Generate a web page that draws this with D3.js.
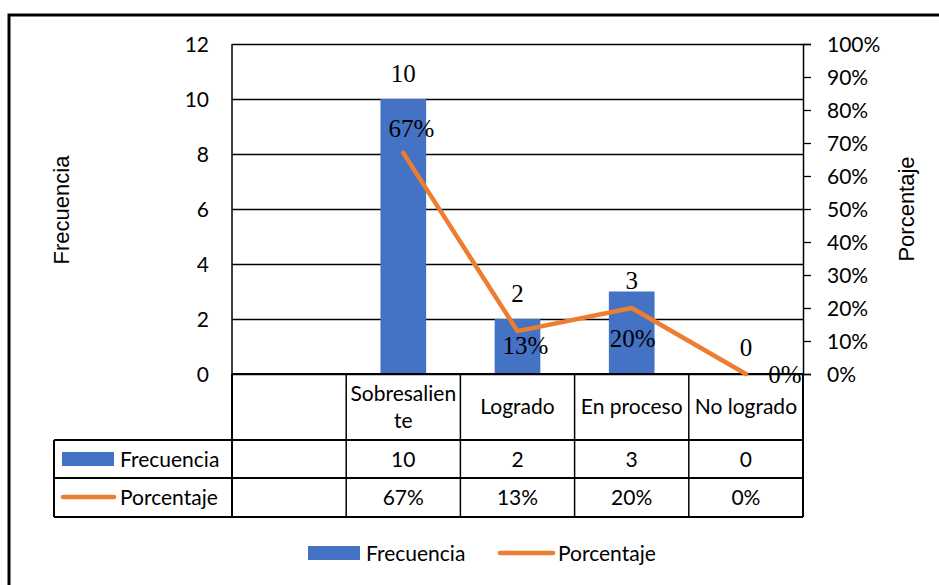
<!DOCTYPE html>
<html>
<head>
<meta charset="utf-8">
<script src="https://cdn.jsdelivr.net/npm/d3@7"></script>
<style>
  body { margin: 0; background: #fff; }
  svg { display: block; }
  .lab { font-family: Lato, "Open Sans", sans-serif; font-size: 21px; fill: #000; }
  .ttl { font-family: "Liberation Sans", Arial, sans-serif; font-size: 22px; fill: #000; }
  .dat { font-family: "Liberation Serif", "Times New Roman", serif; font-size: 25px; fill: #000; }
</style>
</head>
<body>
<script>
(function(){

    //chart values
    var categories = ["", "Sobresaliente", "Logrado", "En proceso", "No logrado"];
    var frecuencia = [null, 10, 2, 3, 0];
    var porcentaje = [null, 67, 13, 20, 0];
    var freqTicks = [0, 2, 4, 6, 8, 10, 12];
    var pctTicks = [0, 10, 20, 30, 40, 50, 60, 70, 80, 90, 100];
    var seriesNames = ["Frecuencia", "Porcentaje"];

    //hand placed data labels (excel style), dx / dy from the point
    var pctLabelShift = [null, [8, -16], [8, 23], [1, 39], [39, 9]];
    var freqLabelShift = [null, -17, -17, -3, -18];

    var width = 939,
        height = 585;

    var blue = "#4472C4",
        orange = "#ED7D31";

    var plot = {left: 232, right: 803, top: 44, bottom: 374};

    var svg = d3.select("body")
        .append("svg")
        .attr("width", width)
        .attr("height", height);

    //outer chart border, runs off the right and bottom of the picture
    svg.append("rect")
        .attr("x", 9)
        .attr("y", 15)
        .attr("width", 960)
        .attr("height", 600)
        .attr("fill", "none")
        .attr("stroke", "#000")
        .attr("stroke-width", 3);

    var x = d3.scaleBand()
        .domain(d3.range(categories.length))
        .range([plot.left, plot.right])
        .paddingInner(0.6)
        .paddingOuter(0.3);

    var yL = d3.scaleLinear().domain([0, 12]).range([plot.bottom, plot.top]);
    var yR = d3.scaleLinear().domain([0, 100]).range([plot.bottom, plot.top]);

    function cx(i){ return x(i) + x.bandwidth() / 2; }

    //gridlines + left labels
    var leftAxis = svg.append("g")
        .attr("transform", "translate(" + plot.left + ",0)")
        .call(d3.axisLeft(yL).tickValues(freqTicks).tickSize(-(plot.right - plot.left)).tickPadding(23));
    leftAxis.select(".domain").remove();
    leftAxis.selectAll(".tick line").attr("stroke", "#000").attr("stroke-width", 1.3);
    leftAxis.selectAll(".tick text").attr("class", "lab").attr("dy", "0.36em");
    leftAxis.attr("font-size", null).attr("font-family", null);

    //left axis line
    svg.append("line")
        .attr("x1", plot.left).attr("x2", plot.left)
        .attr("y1", plot.top).attr("y2", plot.bottom)
        .attr("stroke", "#000").attr("stroke-width", 1.5);

    //right axis
    var rightAxis = svg.append("g")
        .attr("transform", "translate(" + plot.right + ",0)")
        .call(d3.axisRight(yR).tickValues(pctTicks).tickSize(8).tickPadding(16)
            .tickFormat(function(d){ return d + "%"; }));
    rightAxis.select(".domain").attr("stroke", "#000").attr("stroke-width", 1.5);
    rightAxis.selectAll(".tick line").attr("stroke", "#000").attr("stroke-width", 1.3);
    rightAxis.selectAll(".tick text").attr("class", "lab").attr("dy", "0.36em");
    rightAxis.attr("font-size", null).attr("font-family", null);

    //bars
    frecuencia.forEach(function(d, i){
        if (d === null) return;
        svg.append("rect")
            .attr("x", x(i))
            .attr("y", yL(d))
            .attr("width", x.bandwidth())
            .attr("height", yL(0) - yL(d))
            .attr("fill", blue);
    });

    //x axis baseline
    svg.append("line")
        .attr("x1", plot.left).attr("x2", plot.right)
        .attr("y1", plot.bottom).attr("y2", plot.bottom)
        .attr("stroke", "#000").attr("stroke-width", 2);

    //percentage line
    var pts = porcentaje.map(function(d, i){ return {i: i, v: d}; })
        .filter(function(d){ return d.v !== null; });

    var line = d3.line()
        .x(function(d){ return cx(d.i); })
        .y(function(d){ return yR(d.v); });

    svg.append("path")
        .datum(pts)
        .attr("d", line)
        .attr("fill", "none")
        .attr("stroke", orange)
        .attr("stroke-width", 4.5)
        .attr("stroke-linecap", "round")
        .attr("stroke-linejoin", "round");

    //data labels
    frecuencia.forEach(function(d, i){
        if (d === null) return;
        svg.append("text")
            .attr("class", "dat")
            .attr("text-anchor", "middle")
            .attr("x", cx(i))
            .attr("y", yL(d) + freqLabelShift[i])
            .text(d);
    });
    pts.forEach(function(d){
        var s = pctLabelShift[d.i];
        svg.append("text")
            .attr("class", "dat")
            .attr("text-anchor", "middle")
            .attr("x", cx(d.i) + s[0])
            .attr("y", yR(d.v) + s[1])
            .text(d.v + "%");
    });

    //data table under the plot
    var colEdges = d3.range(categories.length + 1).map(function(k){
        return plot.left + k * (plot.right - plot.left) / categories.length;
    });

    var rows = {head: [plot.bottom, 440], r1: [440, 478], r2: [478, 517]};
    var tableLeft = 54;

    var tbl = svg.append("g").attr("stroke", "#000").attr("stroke-width", 2);

    colEdges.forEach(function(e, k){
        tbl.append("line")
            .attr("x1", e).attr("x2", e)
            .attr("y1", rows.head[0]).attr("y2", rows.r2[1])
            .attr("stroke-width", (k === 0 || k === colEdges.length - 1) ? 2 : 1.5);
    });
    tbl.append("line")
        .attr("x1", tableLeft).attr("x2", tableLeft)
        .attr("y1", rows.r1[0]).attr("y2", rows.r2[1]);
    [rows.r1[0], rows.r2[0], rows.r2[1]].forEach(function(yy){
        tbl.append("line")
            .attr("x1", tableLeft).attr("x2", plot.right)
            .attr("y1", yy).attr("y2", yy);
    });

    //category headers, wrapped like excel
    categories.forEach(function(c, i){
        if (!c) return;
        var colW = colEdges[i + 1] - colEdges[i] - 2;
        var t = svg.append("text")
            .attr("class", "lab")
            .attr("text-anchor", "middle")
            .attr("x", cx(i))
            .text(c);
        if (t.node().getComputedTextLength() > colW) {
            var cut = c.length;
            while (cut > 1) {
                t.text(c.slice(0, cut));
                if (t.node().getComputedTextLength() <= colW) break;
                cut--;
            }
            t.text(null);
            t.append("tspan").attr("x", cx(i)).attr("y", 401).text(c.slice(0, cut));
            t.append("tspan").attr("x", cx(i)).attr("y", 428).text(c.slice(cut));
        } else {
            t.attr("y", 414);
        }
    });

    //table values
    frecuencia.forEach(function(d, i){
        if (d === null) return;
        svg.append("text").attr("class", "lab").attr("text-anchor", "middle")
            .attr("x", cx(i)).attr("y", 467).text(d);
    });
    porcentaje.forEach(function(d, i){
        if (d === null) return;
        svg.append("text").attr("class", "lab").attr("text-anchor", "middle")
            .attr("x", cx(i)).attr("y", 505).text(d + "%");
    });

    //row keys in the table
    svg.append("rect").attr("x", 62).attr("y", 452).attr("width", 52).attr("height", 14).attr("fill", blue);
    svg.append("text").attr("class", "lab").attr("x", 120).attr("y", 467).text(seriesNames[0]);
    svg.append("line").attr("x1", 63).attr("x2", 114).attr("y1", 497).attr("y2", 497)
        .attr("stroke", orange).attr("stroke-width", 4.5).attr("stroke-linecap", "round");
    svg.append("text").attr("class", "lab").attr("x", 120).attr("y", 505).text(seriesNames[1]);

    //axis titles
    svg.append("text").attr("class", "ttl")
        .attr("text-anchor", "middle")
        .attr("transform", "translate(69,210) rotate(-90)")
        .text("Frecuencia");
    svg.append("text").attr("class", "ttl")
        .attr("text-anchor", "middle")
        .attr("transform", "translate(914,209) rotate(-90)")
        .text("Porcentaje");

    //legend
    var legend = svg.append("g");
    legend.append("rect").attr("x", 308).attr("y", 546).attr("width", 52).attr("height", 14).attr("fill", blue);
    legend.append("text").attr("class", "lab").attr("x", 366).attr("y", 561).text(seriesNames[0]);
    legend.append("line").attr("x1", 500).attr("x2", 553).attr("y1", 553).attr("y2", 553)
        .attr("stroke", orange).attr("stroke-width", 4.5).attr("stroke-linecap", "round");
    legend.append("text").attr("class", "lab").attr("x", 558).attr("y", 561).text(seriesNames[1]);

})();
</script>
</body>
</html>
